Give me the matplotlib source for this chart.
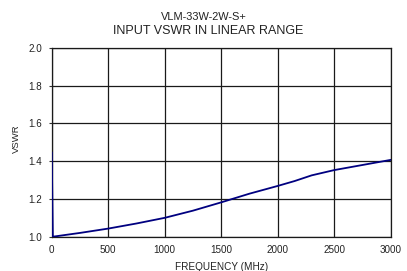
import matplotlib
matplotlib.use("Agg")
import matplotlib.pyplot as plt

plt.rcParams['font.family'] = ['Liberation Sans', 'DejaVu Sans']

freq = [0.3, 10, 250, 500, 750, 1000, 1250, 1500, 1750, 2000, 2150, 2300, 2500, 2750, 3000]
vswr = [1.445, 1.0, 1.02, 1.043, 1.07, 1.10, 1.138, 1.182, 1.228, 1.269, 1.295, 1.325, 1.353, 1.38, 1.407]

xticks = [0, 500, 1000, 1500, 2000, 2500, 3000]
yticks = [1.0, 1.2, 1.4, 1.6, 1.8, 2.0]

W, H = 407, 271
fig = plt.figure(figsize=(W / 100, H / 100), dpi=100)
ax = fig.add_axes([51.7 / W, 1 - 236.7 / H, (390.7 - 51.7) / W, (236.7 - 48) / H])
ax.plot(freq, vswr, color='#000080', lw=1.3, zorder=3)
ax.set_xlim(0, 3000)
ax.set_ylim(1.0, 2.0)
ax.set_xticks(xticks)
ax.set_yticks(yticks)
ax.set_yticklabels([f"{v:.1f}" for v in yticks])
ax.grid(True, color='#1a1a1a', lw=0.9)
ax.tick_params(axis='both', labelsize=7.1, colors='#222222')
ax.tick_params(axis='y', length=2.2, width=0.8, pad=4.8, color='#333333')
ax.tick_params(axis='x', length=0, pad=6)
for s in ax.spines.values():
    s.set_color('#1a1a1a')
    s.set_linewidth(0.9)

tc = '#222222'
fig.text(221.5 / W, 1 - 270 / H, 'FREQUENCY (MHz)', fontsize=7.2, ha='center', va='baseline', color=tc)
fig.text(16.5 / W, 1 - 139 / H, 'VSWR', fontsize=6.8, ha='center', va='center', rotation=90, color=tc)
fig.text(204 / W, 1 - 19.5 / H, 'VLM-33W-2W-S+', fontsize=7.9, ha='center', va='baseline', color=tc)
fig.text(208 / W, 1 - 33.5 / H, 'INPUT VSWR IN LINEAR RANGE', fontsize=9.0, ha='center', va='baseline', color=tc)
fig.savefig('out.png', dpi=100)
